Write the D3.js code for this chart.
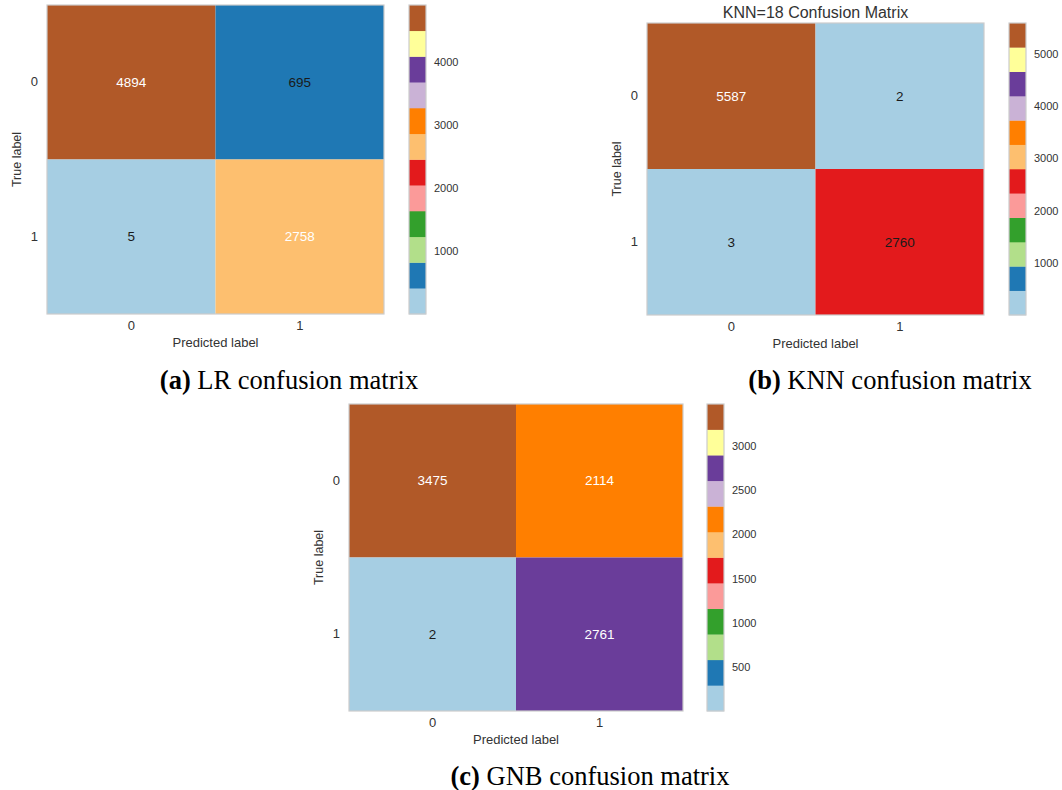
<!DOCTYPE html>
<html>
<head>
<meta charset="utf-8">
<script src="https://cdn.jsdelivr.net/npm/d3@7"></script>
<style>
  html, body { margin: 0; padding: 0; background: #ffffff; }
  svg { display: block; }
</style>
</head>
<body>
<svg id="fig" width="1062" height="790"></svg>
<script>
// Class labels shared by every matrix
const classLabels = ["0", "1"];

// Confusion-matrix counts, rows = true label, columns = predicted label
const lrValues  = [[4894, 695], [5, 2758]];
const knnValues = [[5587, 2], [3, 2760]];
const gnbValues = [[3475, 2114], [2, 2761]];

// Colour-bar tick values
const lrTicks  = [1000, 2000, 3000, 4000];
const knnTicks = [1000, 2000, 3000, 4000, 5000];
const gnbTicks = [500, 1000, 1500, 2000, 2500, 3000];

// Titles and sub-figure captions
const knnTitle = "KNN=18 Confusion Matrix";
const captionTags = ["(a)", "(b)", "(c)"];
const captionTexts = [" LR confusion matrix", " KNN confusion matrix", " GNB confusion matrix"];

const svg = d3.select("#fig");
const ink = "#333333";
const frame = "#cccccc";
const sans = "'Liberation Sans', Arial, sans-serif";
const serif = "'Liberation Serif', 'Times New Roman', serif";

function drawMatrix(values, ticks, box, title) {
  const flat = values.flat();
  const vmin = d3.min(flat), vmax = d3.max(flat);
  const color = d3.scaleQuantize().domain([vmin, vmax]).range(d3.schemePaired);

  const x = d3.scaleBand().domain(classLabels).range([box.left, box.right]);
  const y = d3.scaleBand().domain(classLabels).range([box.top, box.bottom]);
  const g = svg.append("g");

  const cells = [];
  values.forEach((row, i) => row.forEach((v, j) => cells.push({ t: classLabels[i], p: classLabels[j], v })));

  g.selectAll("rect.cell").data(cells).join("rect")
    .attr("class", "cell")
    .attr("x", d => x(d.p)).attr("y", d => y(d.t))
    .attr("width", x.bandwidth()).attr("height", y.bandwidth())
    .attr("fill", d => color(d.v));

  const thresh = (vmin + vmax) / 2;
  g.selectAll("text.val").data(cells).join("text")
    .attr("class", "val")
    .attr("x", d => x(d.p) + x.bandwidth() / 2)
    .attr("y", d => y(d.t) + y.bandwidth() / 2)
    .attr("text-anchor", "middle").attr("dominant-baseline", "central")
    .attr("font-family", sans).attr("font-size", 13.5)
    .attr("fill", d => d.v > thresh ? "#ffffff" : "#1a1a1a")
    .text(d => d.v);

  g.append("rect")
    .attr("x", box.left).attr("y", box.top)
    .attr("width", box.right - box.left).attr("height", box.bottom - box.top)
    .attr("fill", "none").attr("stroke", frame).attr("stroke-width", 1.2);

  // axes without tick marks
  const xAxis = g.append("g").attr("transform", `translate(0,${box.bottom})`)
    .call(d3.axisBottom(x).tickSize(0).tickPadding(7));
  const yAxis = g.append("g").attr("transform", `translate(${box.left},0)`)
    .call(d3.axisLeft(y).tickSize(0).tickPadding(9));
  [xAxis, yAxis].forEach(a => {
    a.select(".domain").remove();
    a.selectAll("text").attr("font-family", sans).attr("font-size", 13).attr("fill", ink);
  });

  g.append("text")
    .attr("x", (box.left + box.right) / 2).attr("y", box.bottom + 28)
    .attr("text-anchor", "middle").attr("dominant-baseline", "central")
    .attr("font-family", sans).attr("font-size", 13).attr("fill", ink)
    .text("Predicted label");

  const cy = (box.top + box.bottom) / 2;
  g.append("text")
    .attr("transform", `translate(${box.left - 30},${cy}) rotate(-90)`)
    .attr("text-anchor", "middle").attr("dominant-baseline", "central")
    .attr("font-family", sans).attr("font-size", 12.5).attr("fill", ink)
    .text("True label");

  if (title) {
    g.append("text")
      .attr("x", (box.left + box.right) / 2).attr("y", box.top - 11)
      .attr("text-anchor", "middle").attr("dominant-baseline", "central")
      .attr("font-family", sans).attr("font-size", 16).attr("fill", ink)
      .text(title);
  }

  // colour bar: 12 discrete bands of the Paired palette
  const cbY = d3.scaleLinear().domain([vmin, vmax]).range([box.bottom, box.top]);
  const step = (vmax - vmin) / 12;
  const bands = d3.schemePaired.map((c, i) => ({ c, lo: vmin + i * step, hi: vmin + (i + 1) * step }));
  g.selectAll("rect.band").data(bands).join("rect")
    .attr("class", "band")
    .attr("x", box.cbLeft).attr("width", box.cbWidth)
    .attr("y", d => cbY(d.hi)).attr("height", d => cbY(d.lo) - cbY(d.hi) + 0.3)
    .attr("fill", d => d.c);
  g.append("rect")
    .attr("x", box.cbLeft).attr("y", box.top)
    .attr("width", box.cbWidth).attr("height", box.bottom - box.top)
    .attr("fill", "none").attr("stroke", frame).attr("stroke-width", 1.2);

  const cbAxis = g.append("g").attr("transform", `translate(${box.cbLeft + box.cbWidth},0)`)
    .call(d3.axisRight(cbY).tickValues(ticks).tickSize(0).tickPadding(8).tickFormat(d3.format("d")));
  cbAxis.select(".domain").remove();
  cbAxis.selectAll("text").attr("font-family", sans).attr("font-size", 11).attr("fill", ink);
}

function drawCaption(tag, text, cx, cy) {
  const t = svg.append("text")
    .attr("x", cx).attr("y", cy)
    .attr("text-anchor", "middle").attr("dominant-baseline", "central")
    .attr("font-family", serif).attr("font-size", 26.5).attr("fill", "#000");
  t.append("tspan").attr("font-weight", "bold").text(tag);
  t.append("tspan").text(text);
}

drawMatrix(lrValues, lrTicks, { left: 47, right: 384, top: 5, bottom: 314, cbLeft: 409, cbWidth: 17 }, null);
drawMatrix(knnValues, knnTicks, { left: 647, right: 984, top: 23, bottom: 315, cbLeft: 1009, cbWidth: 17 }, knnTitle);
drawMatrix(gnbValues, gnbTicks, { left: 349, right: 683, top: 404, bottom: 711, cbLeft: 707, cbWidth: 17 }, null);

drawCaption(captionTags[0], captionTexts[0], 289, 380);
drawCaption(captionTags[1], captionTexts[1], 890, 380);
drawCaption(captionTags[2], captionTexts[2], 590, 776);
</script>
</body>
</html>
